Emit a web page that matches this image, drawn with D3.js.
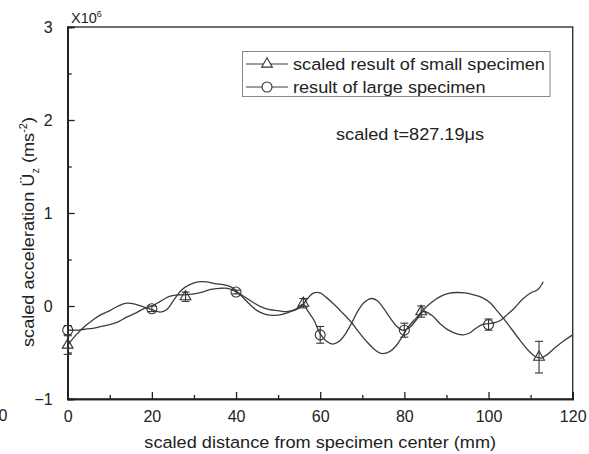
<!DOCTYPE html>
<html><head><meta charset="utf-8">
<script src="https://cdn.jsdelivr.net/npm/d3@7"></script>
<style>
html,body{margin:0;padding:0;background:#fff;}
svg{display:block;font-family:"Liberation Sans",Arial,sans-serif;}
</style></head>
<body><svg id="c" width="589" height="454"></svg>
<script>
// ---- data (x in mm, y in units of 1e6 m/s^2) ----
const smallLineX = [0,2,4,6,8,10,12,14,16,18,20,22,23.5,25,27,29,31,33,35,37,39,41,43,45,47,49,51,53,55,56,57,58.5,60,61.5,63,65,67.5,69,71,73,74.5,76.5,78,79.5,81,83,84.5,86.5,88.5,90.5,92.5,94.5,96.5,98.5,100.5,102,103.5,105.5,107.5,109.5,111,112.5,114,116,118,120];
const smallLineY = [-0.42,-0.31,-0.22,-0.15,-0.09,-0.05,0.0,0.03,0.02,-0.01,-0.04,-0.065,-0.04,0.05,0.17,0.23,0.26,0.26,0.24,0.23,0.2,0.12,0.03,-0.05,-0.09,-0.1,-0.09,-0.06,-0.02,0.02,0.08,0.14,0.14,0.09,0.03,-0.06,-0.18,-0.27,-0.38,-0.47,-0.51,-0.49,-0.43,-0.33,-0.22,-0.12,-0.04,0.04,0.1,0.135,0.145,0.14,0.12,0.09,0.03,-0.05,-0.13,-0.25,-0.37,-0.48,-0.54,-0.56,-0.52,-0.44,-0.37,-0.31];
const largeLineX = [0,2,4,6,8,10,12,14,16,18,20,22,24,26,28,30,32,34,36,38,40,42,44,46,48,50,52,54,56,57,58.5,60,61.5,63,64.5,66,67.5,69,70.5,72,73.5,75,76.5,78,79.5,81,83,84.5,86.5,88.5,90.5,92.5,94,95.5,97,98.5,100,101.5,103,104.5,106,108,110,111.5,112.2,113];
const largeLineY = [-0.26,-0.26,-0.25,-0.24,-0.22,-0.2,-0.17,-0.12,-0.08,-0.03,0.0,0.05,0.1,0.12,0.12,0.13,0.15,0.18,0.19,0.19,0.155,0.1,0.04,-0.01,-0.04,-0.05,-0.06,-0.04,0.02,-0.05,-0.15,-0.3,-0.38,-0.41,-0.38,-0.3,-0.18,-0.05,0.04,0.08,0.06,-0.02,-0.12,-0.21,-0.26,-0.24,-0.14,-0.06,-0.1,-0.19,-0.26,-0.3,-0.31,-0.29,-0.24,-0.2,-0.19,-0.18,-0.15,-0.09,-0.03,0.07,0.14,0.17,0.2,0.26];
const smallPtsX = [0,28,56,84,112];
const smallPtsY = [-0.42,0.1,0.03,-0.06,-0.55];
const smallErr  = [0.1,0.05,0.05,0.06,0.17];
const largePtsX = [0,20,40,60,80,100];
const largePtsY = [-0.26,-0.03,0.15,-0.31,-0.26,-0.2];
const largeErr  = [0.05,0.03,0.02,0.09,0.075,0.06];
const xTicks = [0,20,40,60,80,100,120];
const yTicks = [-1,0,1,2,3];
const seriesNames = ["scaled result of small specimen","result of large specimen"];

const svg = d3.select("#c");
const L=67.7,R=572.7,T=27,B=399;
const x = d3.scaleLinear([0,120],[L,R]);
const y = d3.scaleLinear([-1,3],[B,T]);
const ink="#222", lineCol="#3c3c3c";
const SX=1.1, FS=16.5;

// frame
svg.append("rect").attr("x",L).attr("y",T).attr("width",R-L).attr("height",B-T)
  .attr("fill","none").attr("stroke","#333").attr("stroke-width",1.4);

// axes
const gx = svg.append("g").attr("transform",`translate(0,${B})`)
  .call(d3.axisBottom(x).tickValues(xTicks).tickSize(-7).tickPadding(12).tickFormat(d3.format("d")));
const gxm = svg.append("g").attr("transform",`translate(0,${B})`)
  .call(d3.axisBottom(x).tickValues([10,30,50,70,90,110]).tickSize(-4).tickFormat(""));
const gy = svg.append("g").attr("transform",`translate(${L},0)`)
  .call(d3.axisLeft(y).tickValues(yTicks).tickSize(-7).tickPadding(15).tickFormat(d3.format("d")));
const gym = svg.append("g").attr("transform",`translate(${L},0)`)
  .call(d3.axisLeft(y).tickValues([-0.5,0.5,1.5,2.5]).tickSize(-4).tickFormat(""));
[gx,gxm,gy,gym].forEach(g=>{
  g.select(".domain").attr("stroke","#222").attr("stroke-width",1.6);
  g.selectAll(".tick line").attr("stroke","#222").attr("stroke-width",1.3);
  g.selectAll(".tick text").attr("fill",ink).attr("font-size",16).attr("font-family","Liberation Sans, Arial, sans-serif");
});

// multiplier label
const mt = svg.append("text").attr("x",71).attr("y",23).attr("fill",ink).attr("font-size",14.5);
mt.append("tspan").text("X10");
mt.append("tspan").attr("font-size",9).attr("dy",-6).text("6");

// stray cropped label at left edge
svg.append("text").attr("x",3).attr("y",421).attr("text-anchor","middle").attr("fill",ink).attr("font-size",16).text("0");

// axis titles
svg.append("text").attr("transform",`translate(${x(60)},448) scale(${SX},1)`).attr("text-anchor","middle")
  .attr("fill",ink).attr("font-size",FS).text("scaled distance from specimen center (mm)");
const yt = svg.append("text").attr("transform",`translate(34,232) rotate(-90) scale(${SX},1)`)
  .attr("text-anchor","middle").attr("fill",ink).attr("font-size",FS);
yt.append("tspan").text("scaled acceleration Ü");
yt.append("tspan").attr("font-size",10).attr("dy",5).text("z");
yt.append("tspan").attr("dy",-5).text(" (ms");
yt.append("tspan").attr("font-size",10).attr("dy",-7).text("-2");
yt.append("tspan").attr("dy",7).text(")");

// lines
const line = d3.line().x(d=>x(d[0])).y(d=>y(d[1])).curve(d3.curveCatmullRom.alpha(0.5));
const plot = svg.append("g");
plot.append("path").datum(d3.zip(smallLineX,smallLineY)).attr("d",line)
  .attr("fill","none").attr("stroke",lineCol).attr("stroke-width",1.3);
plot.append("path").datum(d3.zip(largeLineX,largeLineY)).attr("d",line)
  .attr("fill","none").attr("stroke",lineCol).attr("stroke-width",1.3);

// markers
const tri = d3.symbol().type(d3.symbolTriangle).size(50);
function errBars(xs,ys,es){
  xs.forEach((xv,i)=>{
    const cx=x(xv), y1=y(ys[i]+es[i]), y2=y(ys[i]-es[i]);
    const g=plot.append("g").attr("stroke","#333").attr("stroke-width",1.1);
    g.append("line").attr("x1",cx).attr("x2",cx).attr("y1",y1).attr("y2",y2);
    g.append("line").attr("x1",cx-4).attr("x2",cx+4).attr("y1",y1).attr("y2",y1);
    g.append("line").attr("x1",cx-4).attr("x2",cx+4).attr("y1",y2).attr("y2",y2);
  });
}
errBars(smallPtsX,smallPtsY,smallErr);
errBars(largePtsX,largePtsY,largeErr);
smallPtsX.forEach((xv,i)=>{
  plot.append("path").attr("d",tri).attr("transform",`translate(${x(xv)},${y(smallPtsY[i])})`)
    .attr("fill","none").attr("stroke","#333").attr("stroke-width",1.1);
});
largePtsX.forEach((xv,i)=>{
  plot.append("circle").attr("cx",x(xv)).attr("cy",y(largePtsY[i])).attr("r",5)
    .attr("fill","none").attr("stroke","#333").attr("stroke-width",1.1);
});

// legend
const lg = svg.append("g");
lg.append("rect").attr("x",242.5).attr("y",51.5).attr("width",307.5).attr("height",45)
  .attr("fill","#fff").attr("stroke","#888").attr("stroke-width",1);
[64,87].forEach((ly,i)=>{
  lg.append("line").attr("x1",246).attr("x2",288).attr("y1",ly).attr("y2",ly).attr("stroke",lineCol).attr("stroke-width",1.2);
  if(i===0) lg.append("path").attr("d",tri).attr("transform",`translate(267,${ly})`).attr("fill","#fff").attr("stroke","#333").attr("stroke-width",1.1);
  else lg.append("circle").attr("cx",267).attr("cy",ly).attr("r",5).attr("fill","#fff").attr("stroke","#333").attr("stroke-width",1.1);
  lg.append("text").attr("transform",`translate(293,${ly+5.5}) scale(${SX},1)`).attr("fill",ink).attr("font-size",FS).text(seriesNames[i]);
});

// annotation
svg.append("text").attr("transform",`translate(336,140) scale(${SX},1)`).attr("fill",ink).attr("font-size",FS).text("scaled t=827.19μs");
</script></body></html>
